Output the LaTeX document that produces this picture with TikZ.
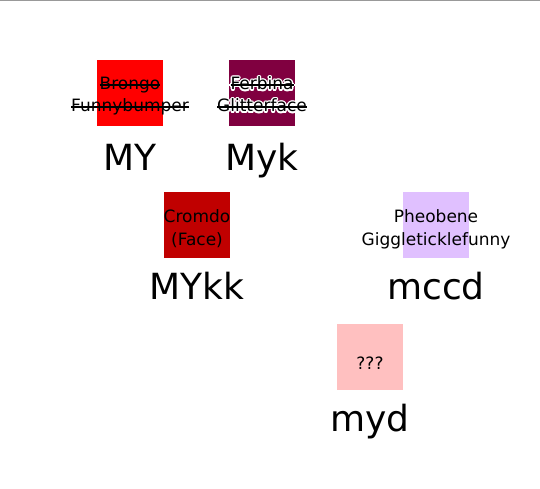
\documentclass[tikz,border=0pt]{standalone}
\usepackage{fontspec}
\setmainfont{DejaVu Sans}
\usetikzlibrary{calc}
\newlength\strklen
\newcommand\strk[1]{\settowidth{\strklen}{#1}\rlap{\rule[0.26em]{\strklen}{1.3pt}}#1}
\definecolor{cRed}{HTML}{FF0000}
\definecolor{cPlum}{HTML}{800040}
\definecolor{cDark}{HTML}{C00000}
\definecolor{cLav}{HTML}{E0C0FF}
\definecolor{cPink}{HTML}{FFC0C0}
\definecolor{cRule}{HTML}{999999}
\begin{document}
\begin{tikzpicture}[x=1pt,y=-1pt,
  swatch/.style={minimum width=66pt,minimum height=66pt,inner sep=0pt,draw=none},
  line/.style={anchor=base,inner sep=0pt,font=\fontsize{17}{22}\selectfont},
  biglabel/.style={anchor=base,inner sep=0pt,font=\fontsize{36}{43}\selectfont}]
\useasboundingbox (0,0) rectangle (540,489);
\fill[cRule] (0,0) rectangle (540,1.5);
% boxes
\node[swatch,fill=cRed]  (b1) at (130,93) {};
\node[swatch,fill=cPlum] (b2) at (262,93) {};
\node[swatch,fill=cDark] (b3) at (197,225) {};
\node[swatch,fill=cLav]  (b4) at (436,225) {};
\node[swatch,fill=cPink] (b5) at (370,357) {};
% texts inside boxes
\node[line] (t1a) at ($(b1)+(0,-3)$) {\strk{Brongo}};
\node[line] (t1b) at ($(b1)+(0,19)$) {\strk{Funnybumper}};
\foreach \a in {0,30,...,330}{
  \node[line,text=white] (ha\a) at ($(b2)+(0,-3)+(\a:1.4)$) {\strk{Ferbina}};
  \node[line,text=white] (hb\a) at ($(b2)+(0,19)+(\a:1.4)$) {\strk{Glitterface}};
}
\node[line] (t2a) at ($(b2)+(0,-3)$) {\strk{Ferbina}};
\node[line] (t2b) at ($(b2)+(0,19)$) {\strk{Glitterface}};
\node[line] (t3a) at ($(b3)+(0,-2.5)$) {Cromdo};
\node[line] (t3b) at ($(b3)+(0,20)$) {(Face)};
\node[line] (t4a) at ($(b4)+(0,-2.5)$) {Pheobene};
\node[line] (t4b) at ($(b4)+(0,20)$) {Giggleticklefunny};
\node[line] (t5)  at ($(b5)+(0,12)$) {???};
% labels
\node[biglabel] (l1) at (130,170.5) {MY};
\node[biglabel] (l2) at (262,170.5) {Myk};
\node[biglabel] (l3) at (197,299) {MYkk};
\node[biglabel] (l4) at (436,299) {mccd};
\node[biglabel] (l5) at (370,431) {myd};
\end{tikzpicture}
\end{document}
